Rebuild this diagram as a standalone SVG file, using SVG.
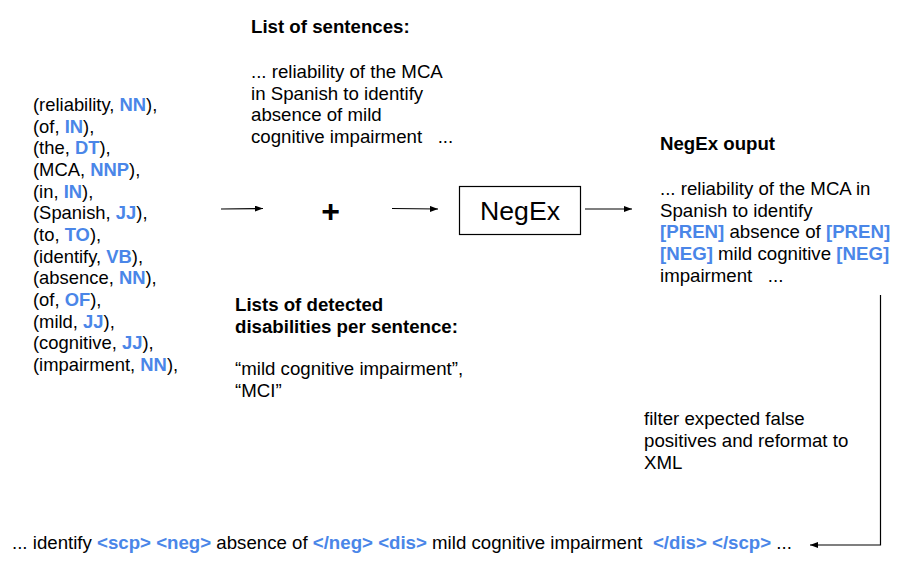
<svg xmlns="http://www.w3.org/2000/svg" width="922" height="582" viewBox="0 0 922 582">
<defs>
<marker id="ah" markerWidth="8" markerHeight="6" refX="8" refY="3" orient="auto" markerUnits="userSpaceOnUse">
<path d="M0,0 L8,3 L0,6 Z" fill="#000"/>
</marker>
<style>
text{font-family:"Liberation Sans",Arial,sans-serif;font-size:18.67px;fill:#000;white-space:pre}
.s{font-size:18.4px}
.b{font-weight:bold}
.t{fill:#4a86e8;font-weight:bold}
.ln{stroke:#000;stroke-width:1.2;fill:none}
</style>
</defs>
<rect width="922" height="582" fill="#fff"/>
<g id="tokens">
<text class="s" x="33" y="111">(reliability, <tspan class="t">NN</tspan>),</text>
<text class="s" x="33" y="133">(of, <tspan class="t">IN</tspan>),</text>
<text class="s" x="33" y="154">(the, <tspan class="t">DT</tspan>),</text>
<text class="s" x="33" y="176">(MCA, <tspan class="t">NNP</tspan>),</text>
<text class="s" x="33" y="198">(in, <tspan class="t">IN</tspan>),</text>
<text class="s" x="33" y="219">(Spanish, <tspan class="t">JJ</tspan>),</text>
<text class="s" x="33" y="241">(to, <tspan class="t">TO</tspan>),</text>
<text class="s" x="33" y="263">(identify, <tspan class="t">VB</tspan>),</text>
<text class="s" x="33" y="284">(absence, <tspan class="t">NN</tspan>),</text>
<text class="s" x="33" y="306">(of, <tspan class="t">OF</tspan>),</text>
<text class="s" x="33" y="328">(mild, <tspan class="t">JJ</tspan>),</text>
<text class="s" x="33" y="349">(cognitive, <tspan class="t">JJ</tspan>),</text>
<text class="s" x="33" y="371">(impairment, <tspan class="t">NN</tspan>),</text>
</g>
<g id="sentences">
<text class="b" x="251" y="33">List of sentences:</text>
<text x="251" y="78">... reliability of the MCA</text>
<text x="251" y="100">in Spanish to identify</text>
<text x="251" y="121">absence of mild</text>
<text x="251" y="143">cognitive impairment   ...</text>
</g>
<g id="plus">
<text class="b" x="330.5" y="222" text-anchor="middle" style="font-size:32px">+</text>
</g>
<g id="disabilities">
<text class="b" x="235" y="311">Lists of detected</text>
<text class="b" x="235" y="333">disabilities per sentence:</text>
<text x="235" y="375">“mild cognitive impairment”,</text>
<text x="235" y="397">“MCI”</text>
</g>
<g id="negex">
<rect x="459.5" y="186.5" width="121" height="48" fill="#fff" stroke="#000" stroke-width="1.2"/>
<text x="520" y="220" text-anchor="middle" style="font-size:26.67px">NegEx</text>
</g>
<g id="output">
<text class="b" x="660" y="150">NegEx ouput</text>
<text x="660" y="195">... reliability of the MCA in</text>
<text x="660" y="217">Spanish to identify</text>
<text x="660" y="238"><tspan class="t">[PREN]</tspan> absence of <tspan class="t">[PREN]</tspan></text>
<text x="660" y="260"><tspan class="t">[NEG]</tspan> mild cognitive <tspan class="t">[NEG]</tspan></text>
<text x="660" y="282">impairment   ...</text>
</g>
<g id="filter">
<text x="644" y="425">filter expected false</text>
<text x="644" y="447">positives and reformat to</text>
<text x="644" y="469">XML</text>
</g>
<g id="result">
<text x="12" y="549">... identify <tspan class="t">&lt;scp&gt;</tspan> <tspan class="t">&lt;neg&gt;</tspan> absence of <tspan class="t">&lt;/neg&gt;</tspan> <tspan class="t">&lt;dis&gt;</tspan> mild cognitive impairment  <tspan class="t">&lt;/dis&gt;</tspan> <tspan class="t">&lt;/scp&gt;</tspan> ...</text>
</g>
<g id="connectors">
<line class="ln" x1="221" y1="209" x2="263" y2="208.5" marker-end="url(#ah)"/>
<line class="ln" x1="392" y1="208.5" x2="438" y2="209" marker-end="url(#ah)"/>
<line class="ln" x1="585" y1="209" x2="632" y2="209" marker-end="url(#ah)"/>
<path class="ln" d="M880.5,295 V545 H810" marker-end="url(#ah)"/>
</g>
</svg>
